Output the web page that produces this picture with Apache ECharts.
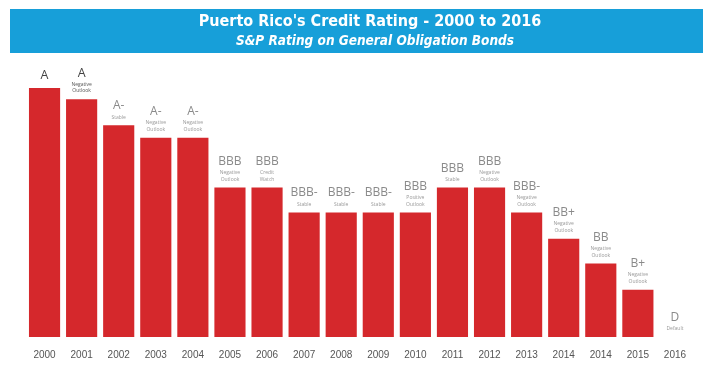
<!DOCTYPE html>
<html>
<head>
<meta charset="utf-8">
<script src="https://cdn.jsdelivr.net/npm/echarts@6/dist/echarts.min.js"></script>
<style>
html,body{margin:0;padding:0;background:#ffffff;}
#chart{width:703px;height:386px;}
</style>
</head>
<body>
<div id="chart"></div>
<script>
// Data
var years = ['2000','2001','2002','2003','2004','2005','2006','2007','2008','2009','2010','2011','2012','2013','2014','2014','2015','2016'];
// Relative rating score (bar height)
var scores = [10, 9.55, 8.5, 8, 8, 6, 6, 5, 5, 5, 5, 6, 6, 5, 3.95, 2.95, 1.9, 0];
var ratings = ['A','A','A-','A-','A-','BBB','BBB','BBB-','BBB-','BBB-','BBB','BBB','BBB','BBB-','BB+','BB','B+','D'];
var outlooks = ['', 'Negative\nOutlook', 'Stable', 'Negative\nOutlook', 'Negative\nOutlook', 'Negative\nOutlook', 'Credit\nWatch', 'Stable', 'Stable', 'Stable', 'Positive\nOutlook', 'Stable', 'Negative\nOutlook', 'Negative\nOutlook', 'Negative\nOutlook', 'Negative\nOutlook', 'Negative\nOutlook', 'Default'];
var titleText = "Puerto Rico's Credit Rating - 2000 to 2016";
var subtitleText = 'S&P Rating on General Obligation Bonds';

var chart = echarts.init(document.getElementById('chart'));

var seriesData = scores.map(function (v, i) {
  var dark = i < 2;
  return {
    value: v,
    label: {
      formatter: function () {
        var parts = ['{' + (dark ? 'rd' : 'r') + '|' + ratings[i] + '}'];
        if (outlooks[i]) {
          outlooks[i].split('\n').forEach(function (line) {
            parts.push('{' + (dark ? 'od' : 'o') + '|' + line + '}');
          });
        }
        return parts.join('\n');
      }
    }
  };
});

chart.setOption({
  backgroundColor: '#ffffff',
  animation: false,
  graphic: [
    { type: 'rect', left: 10, top: 9, shape: { width: 693, height: 44 }, style: { fill: '#179fd9' }, z: 0 },
    { type: 'text', x: 370, y: 22, style: { text: titleText, fill: '#ffffff', font: 'bold 16px "Liberation Sans Narrow", "DejaVu Sans Condensed", sans-serif', textAlign: 'center', textVerticalAlign: 'middle' }, z: 1 },
    { type: 'text', x: 375, y: 41, style: { text: subtitleText, fill: '#ffffff', font: 'italic bold 13.5px "Liberation Sans Narrow", "DejaVu Sans Condensed", sans-serif', textAlign: 'center', textVerticalAlign: 'middle' }, z: 1 }
  ],
  grid: { left: 26, right: 9.5, top: 88, bottom: 49 },
  xAxis: {
    type: 'category',
    data: years,
    axisLine: { show: false },
    axisTick: { show: false },
    axisLabel: { color: '#555', fontSize: 10, fontFamily: 'Liberation Sans, sans-serif', margin: 13, interval: 0 }
  },
  yAxis: {
    type: 'value', min: 0, max: 10, show: false, splitLine: { show: false }
  },
  series: [{
    type: 'bar',
    data: seriesData,
    barCategoryGap: '16%',
    itemStyle: { color: '#d5282c' },
    label: {
      show: true,
      position: 'top',
      distance: 5,
      rich: {
        r: { fontSize: 12, color: '#8a8a8a', fontFamily: 'Open Sans, sans-serif', lineHeight: 16, align: 'center' },
        rd: { fontSize: 12.5, color: '#444', fontFamily: 'Open Sans, sans-serif', lineHeight: 16, align: 'center' },
        o: { fontSize: 5, color: '#999', fontFamily: 'Open Sans, sans-serif', lineHeight: 6.5, align: 'center' },
        od: { fontSize: 5, color: '#555', fontFamily: 'Open Sans, sans-serif', lineHeight: 6.5, align: 'center' }
      }
    }
  }]
});
</script>
</body>
</html>
